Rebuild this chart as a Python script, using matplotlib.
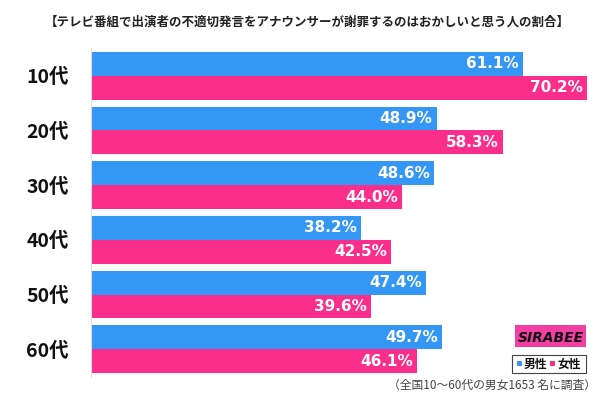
import matplotlib
matplotlib.use("Agg")
import matplotlib.pyplot as plt
from matplotlib.patches import Rectangle
from matplotlib.transforms import offset_copy

plt.rcParams['font.family'] = ['Noto Sans CJK JP', 'DejaVu Sans']

title = "【テレビ番組で出演者の不適切発言をアナウンサーが謝罪するのはおかしいと思う人の割合】"
categories = ["10代", "20代", "30代", "40代", "50代", "60代"]
male = [61.1, 48.9, 48.6, 38.2, 47.4, 49.7]
female = [70.2, 58.3, 44.0, 42.5, 39.6, 46.1]
series_names = ["男性", "女性"]
note = "（全国10～60代の男女1653 名に調査）"

blue = "#3597f5"
pink = "#fb2e8c"

W, H = 600, 400
fig = plt.figure(figsize=(6, 4), dpi=100)
ax = fig.add_axes([91 / W, 1 - 377 / H, 1 - 91 / W, (377 - 48) / H])

bh = 24 / 55
off = 12 / 55
ys = list(range(len(categories)))
ax.barh([y - off for y in ys], male, height=bh, color=blue, linewidth=0)
ax.barh([y + off for y in ys], female, height=bh, color=pink, linewidth=0)

ax.set_xlim(0, (600 - 91) / ((587 - 91) / 70.2))
ax.set_ylim(len(categories) - 0.5 + 0.009, -0.509)

for spine in ["top", "right", "bottom"]:
    ax.spines[spine].set_visible(False)
ax.spines["left"].set_color("#dddddd")
ax.spines["left"].set_linewidth(0.8)
ax.set_xticks([])
ax.set_yticks(ys)
ax.set_yticklabels(categories, fontsize=14, fontweight="bold", color="#111111")
ax.tick_params(axis="y", length=0, pad=16)

tr = offset_copy(ax.transData, fig=fig, x=-4 / 100 * 72, y=0, units="points")
for y, m, f in zip(ys, male, female):
    ax.text(m, y - off, f"{m:.1f}%", ha="right", va="center", color="white",
            fontsize=11, fontweight="bold", transform=tr, family=["DejaVu Sans"])
    ax.text(f, y + off, f"{f:.1f}%", ha="right", va="center", color="white",
            fontsize=11, fontweight="bold", transform=tr, family=["DejaVu Sans"])

fig.text(0.512, 1 - 22 / H, title, ha="center", va="center", fontsize=9,
         fontweight="bold", color="#222222")

# logo
fig.patches.append(Rectangle((515 / W, 1 - 347 / H), 71 / W, 22 / H,
                             transform=fig.transFigure, facecolor="#f23fa3",
                             edgecolor="none"))
fig.text(551 / W, 1 - 338 / H, "SIRABEE", ha="center", va="center",
         fontsize=10, fontweight="bold", fontstyle="italic", color="#111111",
         family=["DejaVu Sans"])

# legend box
fig.patches.append(Rectangle((512 / W, 1 - 373 / H), 74 / W, 18 / H,
                             transform=fig.transFigure, facecolor="white",
                             edgecolor="#444444", linewidth=0.8))
fig.patches.append(Rectangle((517 / W, 1 - 366 / H), 5 / W, 5 / H,
                             transform=fig.transFigure, facecolor=blue,
                             edgecolor="none"))
fig.text(524 / W, 1 - 364 / H, series_names[0], ha="left", va="center",
         fontsize=8.5, fontweight="bold", color="#111111")
fig.patches.append(Rectangle((550 / W, 1 - 366 / H), 5 / W, 5 / H,
                             transform=fig.transFigure, facecolor=pink,
                             edgecolor="none"))
fig.text(557 / W, 1 - 364 / H, series_names[1], ha="left", va="center",
         fontsize=8.5, fontweight="bold", color="#111111")

fig.text(596 / W, 1 - 385 / H, note, ha="right", va="center", fontsize=8.5,
         color="#444444")

fig.savefig("out.png", dpi=100, facecolor="white")
